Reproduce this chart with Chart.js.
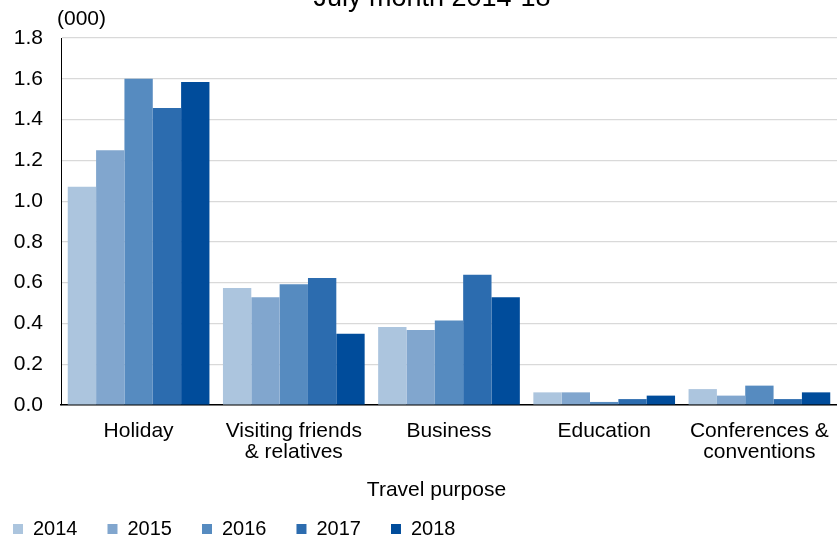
<!DOCTYPE html>
<html>
<head>
<meta charset="utf-8">
<script src="https://cdn.jsdelivr.net/npm/chart.js@4/dist/chart.umd.min.js"></script>
<style>
  html, body { margin: 0; padding: 0; background: #fff; }
  #wrap { position: relative; width: 837px; height: 540px; overflow: hidden; }
</style>
</head>
<body>
<div id="wrap"><canvas id="c" width="837" height="540"></canvas></div>
<script>
const chartTitle = 'July month 2014-18';
const unitLabel = '(000)';
const axisTitle = 'Travel purpose';
const categories = ['Holiday', ['Visiting friends', '& relatives'], 'Business', 'Education', ['Conferences &', 'conventions']];
const years = ['2014', '2015', '2016', '2017', '2018'];
const v2014 = [1.071, 0.574, 0.383, 0.062, 0.078];
const v2015 = [1.250, 0.528, 0.368, 0.062, 0.046];
const v2016 = [1.600, 0.592, 0.415, 0.015, 0.095];
const v2017 = [1.457, 0.623, 0.639, 0.029, 0.029];
const v2018 = [1.584, 0.350, 0.528, 0.046, 0.062];
const yTickValues = [0, 0.2, 0.4, 0.6, 0.8, 1.0, 1.2, 1.4, 1.6, 1.8];

const seriesValues = [v2014, v2015, v2016, v2017, v2018];
const colors = ['#ACC5DE', '#81A6CE', '#568BC0', '#2C6CAF', '#004C9B'];
const FONT = "'Liberation Sans', Arial, sans-serif";

const extras = {
  id: 'extras',
  afterLayout(chart) {
    const lg = chart.legend;
    if (lg) { lg.left -= 17; lg.right -= 17; lg.top = 489; }
  },
  afterDraw(chart) {
    const ctx = chart.ctx;
    ctx.save();
    ctx.fillStyle = '#000';
    ctx.textBaseline = 'alphabetic';
    ctx.font = '27px ' + FONT;
    ctx.textAlign = 'center';
    ctx.fillText(chartTitle, 432, 6);
    ctx.font = '21px ' + FONT;
    ctx.textAlign = 'center';
    ctx.textBaseline = 'middle';
    ctx.fillText(axisTitle, 436.5, 490);
    ctx.textAlign = 'left';
    ctx.textBaseline = 'alphabetic';
    ctx.fillText(unitLabel, 57, 25);
    ctx.restore();
  }
};

new Chart(document.getElementById('c'), {
  type: 'bar',
  data: {
    labels: categories,
    datasets: years.map((y, i) => ({
      label: y,
      data: seriesValues[i],
      backgroundColor: colors[i],
      borderWidth: 0,
      categoryPercentage: 0.913,
      barPercentage: 1.0
    }))
  },
  options: {
    responsive: false,
    animation: false,
    layout: { padding: { top: 38, left: 0, right: 0, bottom: 0 } },
    plugins: {
      title: { display: false },
      tooltip: { enabled: false },
      legend: {
        position: 'bottom',
        align: 'start',
        maxHeight: 36,
        labels: {
          boxWidth: 10,
          boxHeight: 10,
          padding: 30,
          color: '#000',
          font: { family: FONT, size: 20 }
        }
      }
    },
    scales: {
      x: {
        grid: { display: true, color: 'rgba(0,0,0,0)', drawTicks: false },
        border: { display: true, color: '#000', width: 1.5 },
        ticks: {
          color: '#000',
          padding: 15,
          maxRotation: 0,
          autoSkip: false,
          font: { family: FONT, size: 21, lineHeight: 1.02 }
        },
        title: { display: false, text: axisTitle },
        afterFit(scale) { scale.height = 99; scale.paddingLeft = 0; scale.paddingRight = 0; }
      },
      y: {
        min: 0,
        max: 1.8,
        grid: { color: '#D9D9D9', lineWidth: 1.2, drawTicks: false },
        border: { display: true, color: '#000', width: 1 },
        afterBuildTicks(scale) { scale.ticks = yTickValues.map(v => ({ value: v })); },
        ticks: {
          color: '#000',
          padding: 18,
          font: { family: FONT, size: 21 },
          callback: v => Number(v).toFixed(1)
        },
        afterFit(scale) { scale.width = 61; }
      }
    }
  },
  plugins: [extras]
});
</script>
</body>
</html>
